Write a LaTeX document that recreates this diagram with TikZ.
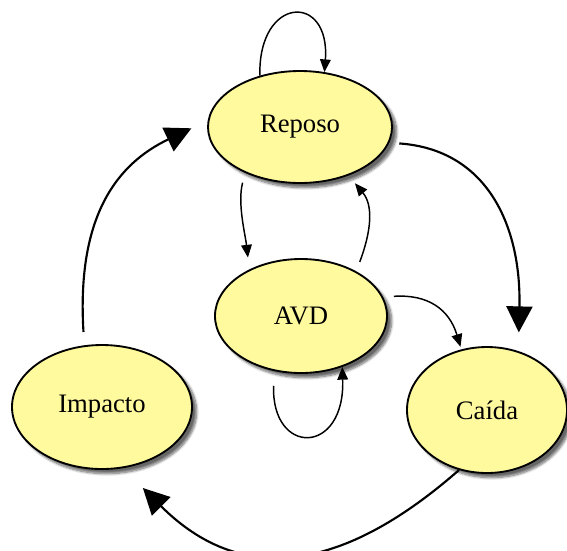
\documentclass[tikz,border=0pt]{standalone}
\usepackage{fontspec}
\setmainfont{Liberation Serif}
\usetikzlibrary{arrows.meta,shapes.geometric,shadows.blur}
\definecolor{stateyellow}{RGB}{255,250,158}
\begin{document}
\begin{tikzpicture}[x=0.75pt,y=-0.75pt,
  state/.style={ellipse, draw=black, line width=1.4pt, fill=stateyellow, inner sep=0pt,
    blur shadow={shadow xshift=3.5pt, shadow yshift=-3.5pt, shadow blur steps=8, shadow opacity=60},
    font=\fontsize{20}{24}\selectfont},
  small/.style={line width=1.1pt, -{Triangle[length=9.5pt,width=8pt]}},
  big/.style={line width=1.6pt, -{Triangle[length=19.5pt,width=19.5pt]}},
]
\path[use as bounding box] (0,0) rectangle (567,550);

% states
\node[state, minimum width=138pt, minimum height=84pt]   (rep) at (300,127) {Reposo};
\node[state, minimum width=129pt, minimum height=85.5pt] (avd) at (301,316) {AVD};
\node[state, minimum width=135pt, minimum height=93pt]   (imp) at (102,407) {Impacto};
\node[state, minimum width=120pt, minimum height=94.5pt] (cai) at (487,410) {Caída};

% transitions around the central state
\draw[small] (rep.128) .. controls +(-2,-80) and +(6,-80) .. (rep.66);
\draw[small, shorten <=7.5pt, shorten >=9pt] (rep.-140) .. controls +(-8,30) and +(-4,-35) .. (avd.138);
\draw[small, shorten <=7.5pt, shorten >=7.5pt] (avd.39) .. controls +(15,-40) and +(25,30) .. (rep.-45);
\draw[small, shorten <=8pt, shorten >=2pt] (avd.13) .. controls +(45,-3) and +(-12,-40) .. (cai.113);
\draw[small, shorten <=11pt] (avd.244) .. controls +(-3,85) and +(3,89) .. (avd.-51);

% outer cycle
\draw[big, shorten <=7.5pt, shorten >=14pt] (rep.-10) .. controls +(100,7) and +(3,-122) .. (cai.62);
\draw[big, shorten >=21pt] (cai.-115) .. controls +(-98,86) and +(130,130) .. (imp.-71);
\draw[big, shorten <=10pt, shorten >=13.5pt] (imp.106) .. controls +(-8,-130) and +(-90,43) .. (rep.176);
\end{tikzpicture}
\end{document}
